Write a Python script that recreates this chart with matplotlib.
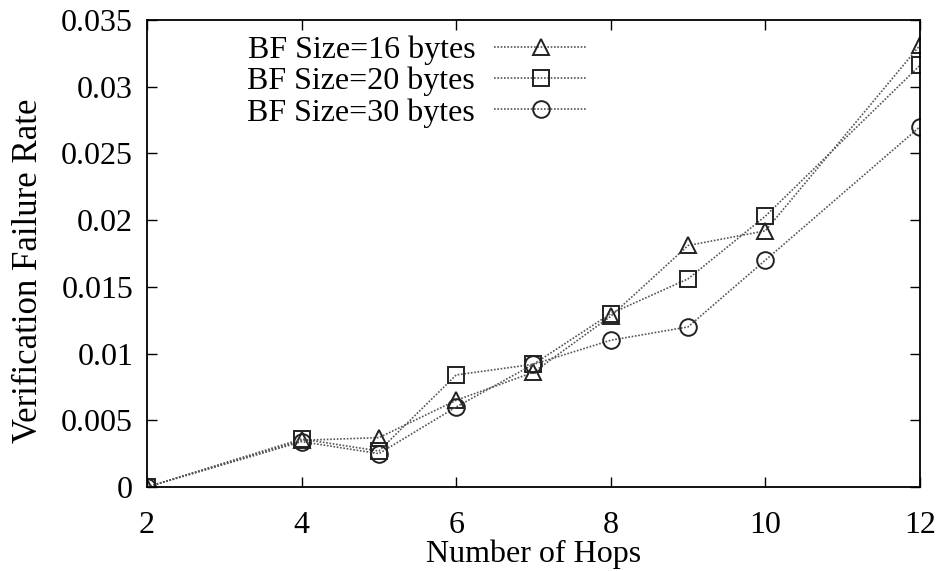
import matplotlib
matplotlib.use("Agg")
import matplotlib.pyplot as plt

hops = [2, 4, 5, 6, 7, 8, 9, 10, 12]
bf16 = [0.0, 0.0035, 0.0037, 0.0065, 0.0086, 0.0128, 0.0181, 0.0192, 0.0331]
bf20 = [0.0, 0.0036, 0.0027, 0.0084, 0.0092, 0.0130, 0.0156, 0.0203, 0.0316]
bf30 = [0.0, 0.0034, 0.0025, 0.0060, 0.0092, 0.0110, 0.0120, 0.0170, 0.0270]
labels = ["BF Size=16 bytes", "BF Size=20 bytes", "BF Size=30 bytes"]
xticks = [2, 4, 6, 8, 10, 12]
yticks = [0, 0.005, 0.01, 0.015, 0.02, 0.025, 0.03, 0.035]
yticklabels = ["0", "0.005", "0.01", "0.015", "0.02", "0.025", "0.03", "0.035"]

plt.rcParams['font.family'] = ['Liberation Serif', 'DejaVu Serif']
FS = 23
plt.rcParams['font.size'] = FS

fig = plt.figure(figsize=(9.45, 5.71), dpi=100)
ax = fig.add_axes([0.1556, 0.1471, 0.8179, 0.8179])

for vals, mk, lab in zip([bf16, bf20, bf30], ['^', 's', 'o'], labels):
    ax.plot(hops, vals, linestyle=(0, (1, 1)), color='#555555', linewidth=1.2,
            marker=mk, markersize=12, markerfacecolor='none',
            markeredgecolor='#222222', markeredgewidth=1.4, label=lab)

ax.set_xlim(2, 12)
ax.set_ylim(0, 0.035)
ax.set_xticks(xticks)
ax.set_yticks(yticks)
ax.set_yticklabels(yticklabels)
ax.tick_params(direction='in', top=True, right=True, length=7, width=1, labelsize=FS, pad=10)
ax.tick_params(axis='x', pad=17)
for s in ax.spines.values():
    s.set_linewidth(1.3)
ax.set_xlabel("Number of Hops", fontsize=FS, labelpad=0)
ax.set_ylabel("Verification Failure Rate", fontsize=25)
ax.yaxis.set_label_coords(-0.132, 0.4625)

leg = ax.legend(loc='upper left', bbox_to_anchor=(0.101, 1.015), frameon=False,
                markerfirst=False, handlelength=2.9, labelspacing=0.06,
                handletextpad=0.6, fontsize=FS, borderpad=0.2)

fig.savefig("out.png", dpi=100)
